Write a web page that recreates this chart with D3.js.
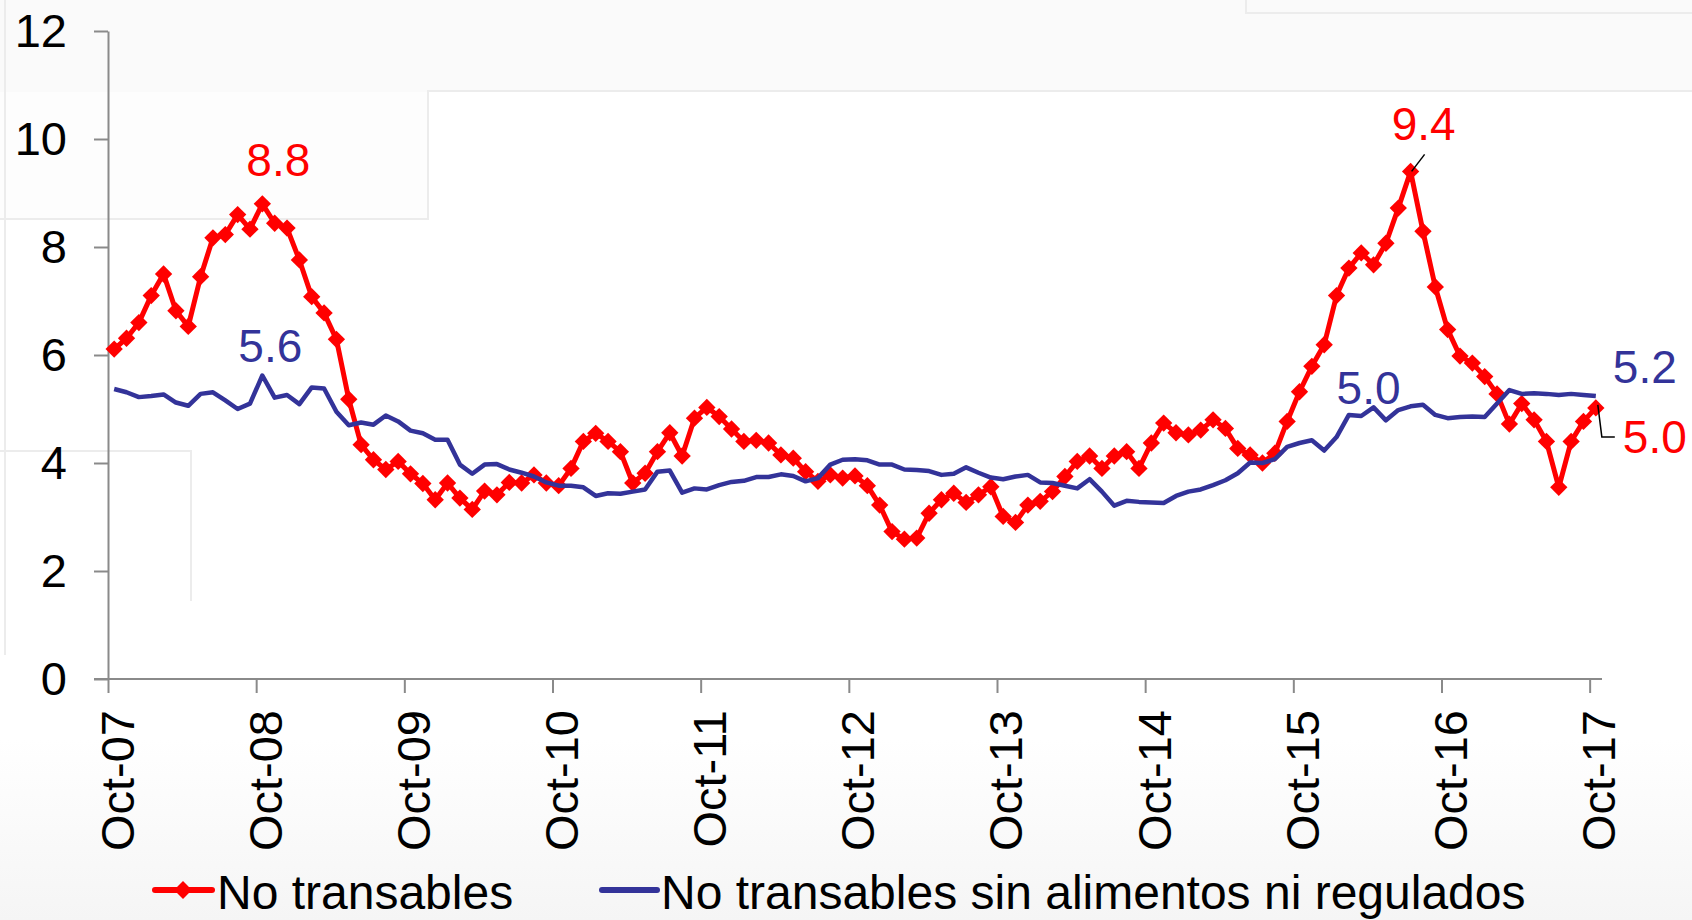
<!DOCTYPE html>
<html>
<head>
<meta charset="utf-8">
<script src="https://cdn.jsdelivr.net/npm/d3@7"></script>
<style>
  body { margin: 0; background: #fff; }
  svg { display: block; font-family: "Liberation Sans", Arial, sans-serif; }
</style>
</head>
<body>
<div id="chart"></div>
<script>
// ---- data (monthly, Oct-07 .. Oct-17) ----
var tickLabels = ["Oct-07","Oct-08","Oct-09","Oct-10","Oct-11","Oct-12","Oct-13","Oct-14","Oct-15","Oct-16","Oct-17"];
var yTicks = [0, 2, 4, 6, 8, 10, 12];

var noTransables = [
  6.11, 6.31, 6.60, 7.10, 7.50, 6.82, 6.53, 7.45, 8.17, 8.23, 8.60, 8.33,
  8.80, 8.44, 8.35, 7.76, 7.08, 6.78, 6.29, 5.18, 4.34, 4.06, 3.88, 4.03,
  3.80, 3.62, 3.32, 3.63, 3.35, 3.14, 3.48, 3.41, 3.64, 3.63, 3.78, 3.63,
  3.58, 3.90, 4.40, 4.55, 4.40, 4.21, 3.63, 3.81, 4.21, 4.56, 4.13, 4.83,
  5.03, 4.86, 4.63, 4.40, 4.42, 4.37, 4.15, 4.09, 3.84, 3.66, 3.78, 3.72,
  3.76, 3.58, 3.22, 2.73, 2.59, 2.61, 3.07, 3.32, 3.44, 3.27, 3.41, 3.56,
  3.01, 2.90, 3.22, 3.29, 3.47, 3.75, 4.03, 4.13, 3.90, 4.13, 4.21, 3.90,
  4.37, 4.74, 4.56, 4.52, 4.61, 4.80, 4.64, 4.27, 4.15, 4.00, 4.18, 4.77,
  5.32, 5.79, 6.19, 7.10, 7.61, 7.89, 7.67, 8.07, 8.72, 9.40, 8.29, 7.26,
  6.47, 5.98, 5.85, 5.60, 5.28, 4.72, 5.10, 4.80, 4.40, 3.55, 4.40, 4.77,
  5.02
];

var noTransablesSinAR = [
  5.37, 5.31, 5.22, 5.24, 5.27, 5.12, 5.06, 5.28, 5.31, 5.16, 5.00, 5.10,
  5.62, 5.21, 5.26, 5.09, 5.40, 5.38, 4.95, 4.70, 4.75, 4.71, 4.88, 4.77,
  4.60, 4.55, 4.43, 4.43, 3.97, 3.80, 3.97, 3.98, 3.88, 3.82, 3.75, 3.64,
  3.58, 3.58, 3.55, 3.39, 3.44, 3.43, 3.47, 3.51, 3.84, 3.86, 3.45, 3.53,
  3.51, 3.59, 3.65, 3.67, 3.74, 3.74, 3.79, 3.76, 3.66, 3.72, 3.97, 4.06,
  4.07, 4.05, 3.97, 3.97, 3.88, 3.87, 3.85, 3.78, 3.80, 3.92, 3.82, 3.73,
  3.70, 3.75, 3.78, 3.64, 3.63, 3.58, 3.53, 3.70, 3.47, 3.21, 3.30, 3.28,
  3.27, 3.26, 3.39, 3.47, 3.51, 3.59, 3.68, 3.81, 4.01, 4.00, 4.07, 4.30,
  4.37, 4.42, 4.23, 4.48, 4.89, 4.87, 5.03, 4.79, 4.98, 5.05, 5.08, 4.89,
  4.83, 4.85, 4.86, 4.85, 5.10, 5.35, 5.28, 5.29, 5.28, 5.26, 5.28, 5.26,
  5.24
];

var seriesNames = ["No transables", "No transables sin alimentos ni regulados"];
var redLabels = [{ i: 12, text: "8.8" }, { i: 105, text: "9.4" }, { i: 120, text: "5.0" }];
var blueLabels = [{ i: 12, text: "5.6" }, { i: 102, text: "5.0" }, { i: 120, text: "5.2" }];

var RED = "#ff0000", BLUE = "#333399", AXIS = "#8a8a8a";

var W = 1692, H = 920;
var svg = d3.select("#chart").append("svg").attr("width", W).attr("height", H);

// ---- faint slide background artefacts ----
var defs = svg.append("defs");
var grad = defs.append("linearGradient").attr("id", "bottomFade").attr("x1", 0).attr("y1", 0).attr("x2", 0).attr("y2", 1);
grad.append("stop").attr("offset", "0%").attr("stop-color", "#ffffff");
grad.append("stop").attr("offset", "100%").attr("stop-color", "#f5f5f5");
svg.append("rect").attr("width", W).attr("height", H).attr("fill", "#fff");
svg.append("rect").attr("width", W).attr("height", 92).attr("fill", "#fafafa");
svg.append("rect").attr("y", 92).attr("width", 428).attr("height", 127).attr("fill", "#fdfdfd");
svg.append("rect").attr("y", 740).attr("width", W).attr("height", 180).attr("fill", "url(#bottomFade)");
var faint = svg.append("g").attr("fill", "none").attr("stroke", "#ececec").attr("stroke-width", 2);
faint.append("polyline").attr("points", "0,219 428,219 428,91 1692,91");
faint.append("polyline").attr("points", "1246,0 1246,13 1692,13");
faint.append("polyline").attr("points", "0,451 191,451 191,601");
faint.append("line").attr("x1", 5).attr("y1", 0).attr("x2", 5).attr("y2", 655);

// ---- scales ----
var x = d3.scaleLinear().domain([0, 121]).range([108, 1602]);
var y = d3.scaleLinear().domain([0, 12]).range([679, 31]);
var cx = function (i) { return x(i + 0.5); };

// ---- axes ----
var yAxis = svg.append("g").attr("transform", "translate(" + x(0) + ",0)")
  .call(d3.axisLeft(y).tickValues(yTicks).tickSize(14).tickSizeOuter(0).tickPadding(27).tickFormat(d3.format("d")));
yAxis.selectAll("path, line").attr("stroke", AXIS).attr("stroke-width", 2);
yAxis.selectAll("text").attr("font-size", 47).attr("fill", "#000").attr("font-family", "Liberation Sans, Arial, sans-serif");

var xAxis = svg.append("g").attr("transform", "translate(0," + y(0) + ")")
  .call(d3.axisBottom(x).tickValues(d3.range(0, 121, 12)).tickSize(14).tickSizeOuter(0)
    .tickFormat(function (d, i) { return tickLabels[i]; }));
xAxis.select(".domain").attr("d", "M" + (x(0) - 14) + ",0H" + x(121));
xAxis.selectAll("path, line").attr("stroke", AXIS).attr("stroke-width", 2);
xAxis.selectAll("text")
  .attr("font-size", 47).attr("fill", "#000").attr("font-family", "Liberation Sans, Arial, sans-serif")
  .attr("text-anchor", "end").attr("dy", null).attr("y", null)
  .attr("transform", "translate(25,31) rotate(-90)");

// ---- series ----
var line = d3.line().x(function (d, i) { return cx(i); }).y(function (d) { return y(d); });

svg.append("path").datum(noTransables)
  .attr("fill", "none").attr("stroke", RED).attr("stroke-width", 5).attr("stroke-linejoin", "round")
  .attr("d", line);

svg.append("g").selectAll("path").data(noTransables).join("path")
  .attr("d", d3.symbol(d3.symbolSquare, 150))
  .attr("fill", RED)
  .attr("transform", function (d, i) { return "translate(" + cx(i) + "," + y(d) + ") rotate(45)"; });

svg.append("path").datum(noTransablesSinAR)
  .attr("fill", "none").attr("stroke", BLUE).attr("stroke-width", 4.5).attr("stroke-linejoin", "round")
  .attr("d", line);

// ---- data labels ----
var labelFont = 46;
// offsets from the labelled point, in px
var redOff = { 12: [16, -28], 105: [13, -31], 120: [59, 45] };
var blueOff = { 12: [8, -14], 102: [-5, -3], 120: [49, -13] };

svg.append("g").selectAll("text").data(redLabels).join("text")
  .attr("x", function (d) { return cx(d.i) + redOff[d.i][0]; })
  .attr("y", function (d) { return y(noTransables[d.i]) + redOff[d.i][1]; })
  .attr("text-anchor", "middle").attr("font-size", labelFont).attr("fill", RED)
  .text(function (d) { return d.text; });

svg.append("g").selectAll("text").data(blueLabels).join("text")
  .attr("x", function (d) { return cx(d.i) + blueOff[d.i][0]; })
  .attr("y", function (d) { return y(noTransablesSinAR[d.i]) + blueOff[d.i][1]; })
  .attr("text-anchor", "middle").attr("font-size", labelFont).attr("fill", BLUE)
  .text(function (d) { return d.text; });

// leader lines
var px = cx(105), py = y(noTransables[105]);
svg.append("line").attr("x1", px + 1).attr("y1", py).attr("x2", px + 14).attr("y2", py - 17)
  .attr("stroke", "#000").attr("stroke-width", 1.5);
var lx = cx(120), ly = y(noTransables[120]);
svg.append("polyline").attr("points", (lx + 2) + "," + (ly - 3) + " " + (lx + 6) + "," + (ly + 29) + " " + (lx + 19) + "," + (ly + 29))
  .attr("fill", "none").attr("stroke", "#000").attr("stroke-width", 1.5);

// ---- legend ----
var legend = svg.append("g").attr("font-size", 48).attr("fill", "#000");
var lg1 = legend.append("g").attr("transform", "translate(155,890)");
lg1.append("line").attr("x1", 0).attr("x2", 57).attr("stroke", RED).attr("stroke-width", 6).attr("stroke-linecap", "round");
lg1.append("path").attr("d", d3.symbol(d3.symbolSquare, 160)).attr("fill", RED).attr("transform", "translate(28,0) rotate(45)");
lg1.append("text").attr("x", 62).attr("y", 19).text(seriesNames[0]);

var lg2 = legend.append("g").attr("transform", "translate(602,890)");
lg2.append("line").attr("x1", 0).attr("x2", 55).attr("stroke", BLUE).attr("stroke-width", 6).attr("stroke-linecap", "round");
lg2.append("text").attr("x", 59).attr("y", 19).text(seriesNames[1]);
</script>
</body>
</html>
